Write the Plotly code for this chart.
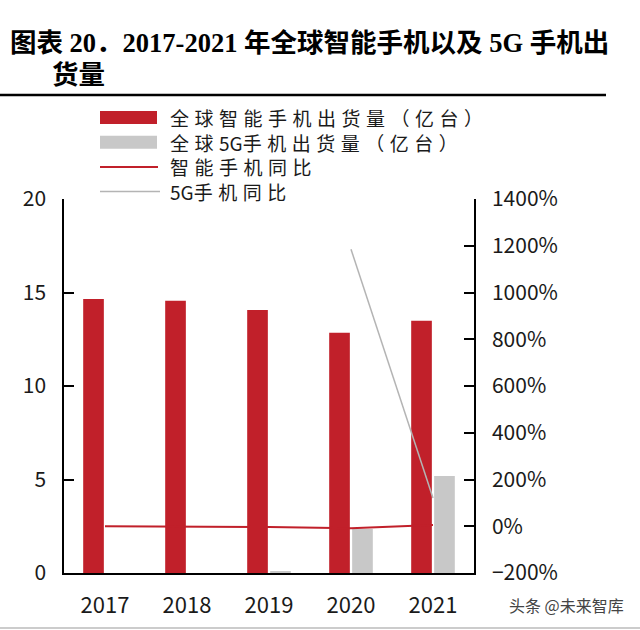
import plotly.graph_objects as go

years = ["2017", "2018", "2019", "2020", "2021"]
smart_ship = [14.65, 14.56, 14.06, 12.85, 13.49]      # 亿台
g5_ship = [None, None, 0.1, 2.35, 5.19]                # 亿台
smart_yoy = [-0.3, -0.6, -3.4, -8.6, 5.0]              # %
g5_yoy = [None, None, None, 1185, 121]                 # %

names = ["全球智能手机出货量（亿台）", "全球5G手机出货量（亿台）", "智能手机同比", "5G手机同比"]

RED = "#c1202a"
GRAY = "#c8c8c8"
LGRAY = "#b4b4b4"
FONT = "Noto Sans CJK SC"

L, R, T, B = 64, 474, 199, 573
def px(x):
    return (x - L) / (R - L)
def py(y):
    return (B - y) / (B - T)

fig = go.Figure()
fig.add_trace(go.Bar(x=years, y=smart_ship, name=names[0], marker=dict(color=RED, line=dict(width=0))))
fig.add_trace(go.Bar(x=years, y=g5_ship, name=names[1], marker=dict(color=GRAY, line=dict(width=0))))
fig.add_trace(go.Scatter(x=years, y=smart_yoy, name=names[2], yaxis="y2", mode="lines",
                         line=dict(color=RED, width=2)))
fig.add_trace(go.Scatter(x=years, y=g5_yoy, name=names[3], yaxis="y2", mode="lines",
                         line=dict(color=LGRAY, width=1.5)))

fig.update_layout(
    width=640, height=630,
    margin=dict(l=L, r=640 - R, t=T, b=630 - B),
    paper_bgcolor="white", plot_bgcolor="white",
    barmode="group", bargap=0.44, bargroupgap=0.1,
    font=dict(family=FONT, color="#1a1a1a"),
    showlegend=False,
    xaxis=dict(showline=True, linecolor="black", linewidth=1.5, ticks="",
               tickfont=dict(size=22), showgrid=False, zeroline=False, ticklabelstandoff=12),
    yaxis=dict(range=[0, 20], dtick=5, showline=True, linecolor="black", linewidth=1.5,
               ticks="inside", ticklen=10, tickcolor="black", tickwidth=1.5,
               tickfont=dict(size=21), showgrid=False, zeroline=False, ticklabelstandoff=12),
    yaxis2=dict(range=[-200, 1400], dtick=200, ticksuffix="%", overlaying="y", side="right",
                showline=True, linecolor="black", linewidth=1.5,
                ticks="inside", ticklen=10, tickcolor="black", tickwidth=1.5,
                tickfont=dict(size=21), showgrid=False, zeroline=False, ticklabelstandoff=12),
)

# Manual legend (symbols + one multi-line text block)
LEG_FS = 19
row_h = LEG_FS * 1.3
rows = [117.5 + i * row_h for i in range(4)]
sym_x0, sym_x1, text_x = 100, 157, 168
fig.add_shape(type="rect", xref="paper", yref="paper", x0=px(sym_x0), x1=px(sym_x1),
              y0=py(rows[0] + 6.5), y1=py(rows[0] - 6.5), fillcolor=RED, line=dict(width=0))
fig.add_shape(type="rect", xref="paper", yref="paper", x0=px(sym_x0), x1=px(sym_x1),
              y0=py(rows[1] + 6.5), y1=py(rows[1] - 6.5), fillcolor=GRAY, line=dict(width=0))
fig.add_shape(type="line", xref="paper", yref="paper", x0=px(sym_x0), x1=px(sym_x1 + 1),
              y0=py(rows[2]), y1=py(rows[2]), line=dict(color=RED, width=2))
fig.add_shape(type="line", xref="paper", yref="paper", x0=px(sym_x0), x1=px(sym_x1 + 3),
              y0=py(rows[3]), y1=py(rows[3]), line=dict(color=LGRAY, width=1.5))

def spaced(s):
    # widen CJK characters only, keep "5G" tight
    out, buf = [], ""
    for ch in s:
        if ord(ch) < 128:
            if buf:
                out.append(f'<span style="letter-spacing:5.5px">{buf}</span>')
                buf = ""
            out.append(ch)
        else:
            buf += ch
    if buf:
        out.append(f'<span style="letter-spacing:5.5px">{buf}</span>')
    return "".join(out)

fig.add_annotation(xref="paper", yref="paper", x=px(text_x), y=py((rows[0] + rows[3]) / 2),
                   xanchor="left", yanchor="middle", align="left",
                   text="<br>".join(spaced(n) for n in names), showarrow=False,
                   font=dict(size=LEG_FS, color="#1a1a1a", family=FONT))

# Title
fig.add_annotation(xref="paper", yref="paper", x=px(8), y=py(43), xanchor="left", yanchor="middle",
                   text="<b>图表 20．2017-2021 年全球智能手机以及 5G 手机出</b>", showarrow=False,
                   font=dict(size=26.5, color="black", family="Liberation Serif, Noto Sans CJK SC"))
fig.add_annotation(xref="paper", yref="paper", x=px(50), y=py(75), xanchor="left", yanchor="middle",
                   text="<b>货量</b>", showarrow=False,
                   font=dict(size=26.5, color="black", family="Liberation Serif, Noto Sans CJK SC"))
fig.add_shape(type="line", xref="paper", yref="paper", x0=px(0), x1=px(606),
              y0=py(95), y1=py(95), line=dict(color="black", width=2.5))
# watermark
fig.add_annotation(xref="paper", yref="paper", x=px(626), y=py(605), xanchor="right", yanchor="middle",
                   text="头条 @未来智库", showarrow=False, font=dict(size=16, color="#444", family=FONT))
fig.add_shape(type="line", xref="paper", yref="paper", x0=px(0), x1=px(640),
              y0=py(628), y1=py(628), line=dict(color="#cccccc", width=2))

fig.write_html("out.html")
